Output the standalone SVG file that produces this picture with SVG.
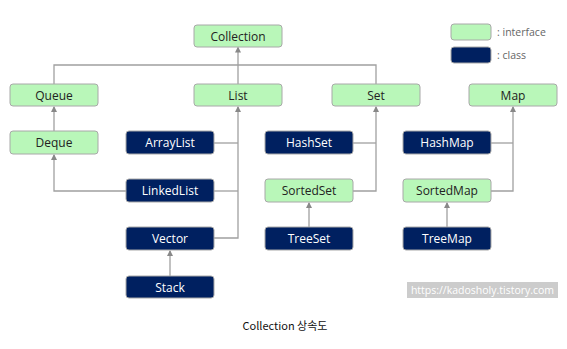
<svg xmlns="http://www.w3.org/2000/svg" width="567" height="349" viewBox="0 0 567 349">
<style>
.i{fill:#b9f7b9;stroke:#a8a8a8;stroke-width:1}
.c{fill:#002060;stroke:#a8a8a8;stroke-width:1}
.ti{font-family:"Open Sans","Noto Sans",sans-serif;font-size:12px;fill:#222;text-anchor:middle}
.tc{font-family:"Open Sans","Noto Sans",sans-serif;font-size:12px;fill:#fff;text-anchor:middle}
.ln{fill:none;stroke:#a0a0a0;stroke-width:1.3}
.lg{font-family:"Open Sans","Noto Sans",sans-serif;font-size:10.5px;fill:#666}
</style>
<defs>
<marker id="ah" markerWidth="6" markerHeight="6" refX="5" refY="3" orient="auto" markerUnits="userSpaceOnUse">
<path d="M0,0 L6,3 L0,6 z" fill="#888"/>
</marker>
</defs>
<rect width="567" height="349" fill="#fff"/>
<g id="connectors">
<path class="ln" d="M238,65 L238,47.5" marker-end="url(#ah)"/>
<path class="ln" d="M54,84 L54,65 L376,65 L376,84"/>
<path class="ln" d="M238,65 L238,84"/>
<path class="ln" d="M54,131 L54,107" marker-end="url(#ah)"/>
<path class="ln" d="M126,191 L54,191 L54,155" marker-end="url(#ah)"/>
<path class="ln" d="M214,143 L238,143"/>
<path class="ln" d="M214,191 L238,191"/>
<path class="ln" d="M214,238 L238,238 L238,107" marker-end="url(#ah)"/>
<path class="ln" d="M170,276 L170,251" marker-end="url(#ah)"/>
<path class="ln" d="M353,143 L376,143"/>
<path class="ln" d="M353,191 L376,191 L376,107" marker-end="url(#ah)"/>
<path class="ln" d="M309,227 L309,203" marker-end="url(#ah)"/>
<path class="ln" d="M491,143 L513,143"/>
<path class="ln" d="M491,191 L513,191 L513,107" marker-end="url(#ah)"/>
<path class="ln" d="M447,227 L447,203" marker-end="url(#ah)"/>
</g>
<g id="Collection"><rect class="i" x="194" y="25" width="88" height="22" rx="3"/><text class="ti" x="238" y="40.5">Collection</text></g>
<g id="Queue"><rect class="i" x="10" y="84" width="88" height="22" rx="3"/><text class="ti" x="54" y="99.5">Queue</text></g>
<g id="List"><rect class="i" x="194" y="84" width="88" height="22" rx="3"/><text class="ti" x="238" y="99.5">List</text></g>
<g id="Set"><rect class="i" x="332" y="84" width="88" height="22" rx="3"/><text class="ti" x="376" y="99.5">Set</text></g>
<g id="Map"><rect class="i" x="469" y="84" width="88" height="22" rx="3"/><text class="ti" x="513" y="99.5">Map</text></g>
<g id="Deque"><rect class="i" x="10" y="131" width="88" height="23" rx="3"/><text class="ti" x="54" y="147">Deque</text></g>
<g id="ArrayList"><rect class="c" x="126" y="131" width="88" height="23" rx="3"/><text class="tc" x="170" y="147">ArrayList</text></g>
<g id="HashSet"><rect class="c" x="265" y="131" width="88" height="23" rx="3"/><text class="tc" x="309" y="147">HashSet</text></g>
<g id="HashMap"><rect class="c" x="403" y="131" width="88" height="23" rx="3"/><text class="tc" x="447" y="147">HashMap</text></g>
<g id="LinkedList"><rect class="c" x="126" y="179" width="88" height="23" rx="3"/><text class="tc" x="170" y="195">LinkedList</text></g>
<g id="SortedSet"><rect class="i" x="265" y="179" width="88" height="23" rx="3"/><text class="ti" x="309" y="195">SortedSet</text></g>
<g id="SortedMap"><rect class="i" x="403" y="179" width="88" height="23" rx="3"/><text class="ti" x="447" y="195">SortedMap</text></g>
<g id="Vector"><rect class="c" x="126" y="227" width="88" height="23" rx="3"/><text class="tc" x="170" y="243">Vector</text></g>
<g id="TreeSet"><rect class="c" x="265" y="227" width="88" height="23" rx="3"/><text class="tc" x="309" y="243">TreeSet</text></g>
<g id="TreeMap"><rect class="c" x="403" y="227" width="88" height="23" rx="3"/><text class="tc" x="447" y="243">TreeMap</text></g>
<g id="Stack"><rect class="c" x="126" y="276" width="88" height="22" rx="3"/><text class="tc" x="170" y="291.5">Stack</text></g>
<g id="legend">
<rect class="i" x="451" y="24" width="40" height="16" rx="3"/>
<text class="lg" x="497" y="36">: interface</text>
<rect class="c" x="451" y="47" width="40" height="16" rx="3"/>
<text class="lg" x="497" y="59">: class</text>
</g>
<g id="watermark">
<rect x="407" y="282" width="151" height="16" fill="#cccccc"/>
<text x="482.5" y="294" font-family="'Open Sans','Noto Sans',sans-serif" font-size="10.5px" fill="#fff" text-anchor="middle">https://kadosholy.tistory.com</text>
</g>
<text x="285" y="330" font-family="'Noto Sans CJK KR','Noto Sans',sans-serif" font-size="11px" fill="#111" text-anchor="middle">Collection 상속도</text>
</svg>
